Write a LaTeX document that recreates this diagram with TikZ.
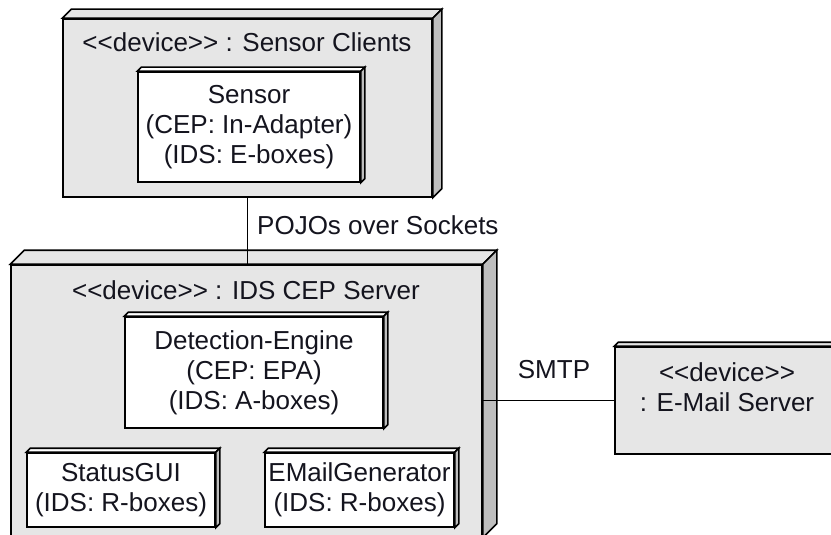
\documentclass[tikz,border=0pt]{standalone}
\usepackage{fontspec}
\setmainfont{Liberation Sans}[Ligatures=TeXOff]
\definecolor{nodegray}{RGB}{230,230,230}
\definecolor{sidegray}{RGB}{190,190,190}
\definecolor{inkcol}{RGB}{20,20,30}

% Draw the top and right faces of a box node to give it depth.
% #1 node name, #2 depth, #3 top fill, #4 side fill
\newcommand\boxdepth[4]{%
  \draw[facestyle, fill=#3] (#1.north west) -- ++(#2,-#2)
    -- ([shift={(#2,-#2)}]#1.north east) -- (#1.north east) -- cycle;
  \draw[facestyle, fill=#4] (#1.north east) -- ([shift={(#2,-#2)}]#1.north east)
    -- ([shift={(#2,-#2)}]#1.south east) -- (#1.south east) -- cycle;
}

\tikzset{
  txt/.style={font=\fontsize{26pt}{30pt}\selectfont, text=inkcol},
  facestyle/.style={line width=1.6pt, line join=miter},
  devicebox/.style={draw, line width=1.6pt, fill=nodegray, inner sep=0pt},
  compbox/.style={draw, line width=1.6pt, fill=white, inner sep=0pt,
    align=center, txt},
  lbl/.style={txt, inner sep=0pt, align=center},
  wire/.style={line width=1.3pt},
}

\begin{document}
\begin{tikzpicture}[x=1pt,y=-1pt]
  \clip (0,0) rectangle (831,535);
  \fill[white] (0,0) rectangle (831,535);

  % Sensor clients device
  \node[devicebox, minimum width=369pt, minimum height=178pt] (clients) at (247.5,108) {};
  \boxdepth{clients}{9}{nodegray}{sidegray}
  \node[lbl] (clientslbl) at (247,42) {<<device>> : Sensor Clients};
  \node[compbox, minimum width=222pt, minimum height=110pt] (sensor) at (249,127)
    {Sensor\\(CEP: In-Adapter)\\(IDS: E-boxes)};
  \boxdepth{sensor}{4}{white}{sidegray}

  % IDS CEP server device
  \node[devicebox, minimum width=471pt, minimum height=272pt] (server) at (246.5,401) {};
  \boxdepth{server}{14}{nodegray}{sidegray}
  \node[lbl] (serverlbl) at (246,290) {<<device>> : IDS CEP Server};
  \node[compbox, minimum width=258pt, minimum height=111pt] (detect) at (254,372.5)
    {Detection-Engine\\(CEP: EPA)\\(IDS: A-boxes)};
  \boxdepth{detect}{4}{white}{sidegray}
  \node[compbox, minimum width=188pt, minimum height=74pt] (gui) at (121,490)
    {StatusGUI\\(IDS: R-boxes)};
  \boxdepth{gui}{4}{white}{sidegray}
  \node[compbox, minimum width=189pt, minimum height=74pt] (mailgen) at (359.5,490)
    {EMailGenerator\\(IDS: R-boxes)};
  \boxdepth{mailgen}{4}{white}{sidegray}

  % E-mail server device
  \node[devicebox, minimum width=224pt, minimum height=107pt] (mailsrv) at (727,400.5) {};
  \boxdepth{mailsrv}{4}{nodegray}{sidegray}
  \node[lbl] (mailsrvlbl) at (727,387) {<<device>>\\: E-Mail Server};

  % Connections
  \draw[wire] (clients.south) -- (clients.south |- server.north);
  \node[lbl, anchor=west] (pojo) at (257,225) {POJOs over Sockets};
  \draw[wire] (mailsrv.west -| server.east) -- (mailsrv.west);
  \node[lbl] (smtp) at (554,370) {SMTP};
\end{tikzpicture}
\end{document}
